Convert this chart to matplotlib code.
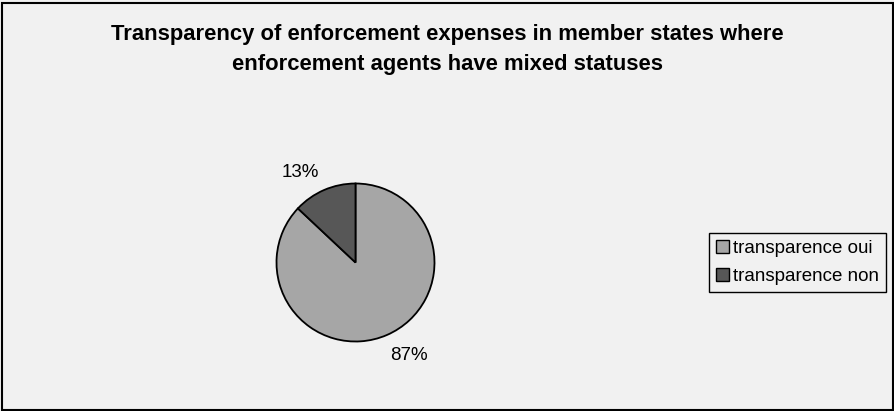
import matplotlib.pyplot as plt
from matplotlib.patches import Rectangle

plt.rcParams['font.family'] = ['Liberation Sans', 'DejaVu Sans']

labels = ['transparence oui', 'transparence non']
shares = [87, 13]
colors = ['#a6a6a6', '#575757']
title = 'Transparency of enforcement expenses in member states where\nenforcement agents have mixed statuses'

W, H = 894, 411
fig = plt.figure(figsize=(W / 100, H / 100), dpi=100, facecolor='#f1f1f1')

# outer frame
fig.patches.append(Rectangle((1.5 / W, 1.5 / H), (W - 3) / W, (H - 4.5) / H,
                             transform=fig.transFigure, fill=False,
                             edgecolor='black', linewidth=1.5))

fig.text(0.5, 1 - 49.5 / H, title, ha='center', va='center', fontsize=15.8,
         fontweight='bold', linespacing=1.55)

# pie axes, centre (355.5, 262.5) px, radius 79 px
cx, cy, r = 355.5, 262.5, 79
ax = fig.add_axes([(cx - r) / W, (H - cy - r) / H, 2 * r / W, 2 * r / H])
wedges, texts = ax.pie(shares, colors=colors, startangle=90, counterclock=False,
                       wedgeprops=dict(edgecolor='black', linewidth=1.3),
                       labels=[f'{v}%' for v in shares], labeldistance=1.3,
                       textprops=dict(fontsize=13.5))
# excel pushes the labels a bit further sideways
for t in texts:
    x, y = t.get_position()
    t.set_position((x + (0.16 if x > 0 else -0.18), y + (0.02 if x > 0 else -0.05)))
    t.set_ha('center')
    t.set_va('center')
ax.set_xlim(-1, 1)
ax.set_ylim(-1, 1)
ax.set_axis_off()

leg = fig.legend(wedges, labels, loc='lower left',
                 bbox_to_anchor=(709 / W, (H - 292) / H), fontsize=13.5,
                 frameon=True, fancybox=False, edgecolor='black',
                 facecolor='#f1f1f1', framealpha=1, handlelength=0.7,
                 handleheight=0.7, handletextpad=0.25, borderpad=0.35,
                 labelspacing=0.6, borderaxespad=0)
leg.get_frame().set_linewidth(1.0)
for h in leg.legend_handles:
    h.set_linewidth(1.0)

fig.savefig('out.png', dpi=100, facecolor=fig.get_facecolor())
